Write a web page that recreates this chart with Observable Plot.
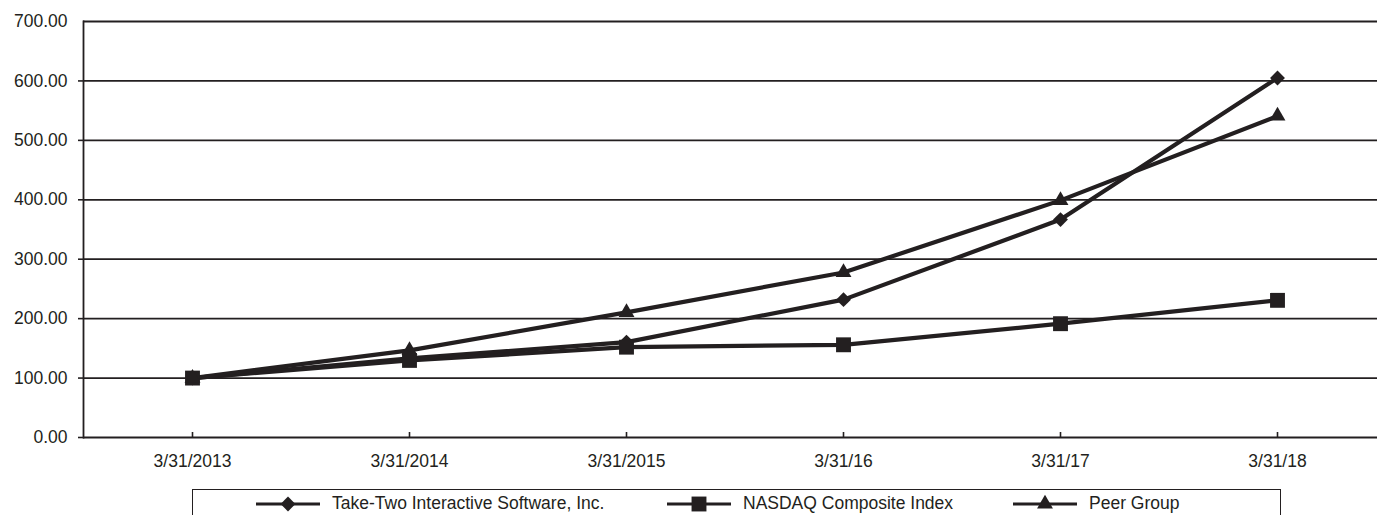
<!DOCTYPE html>
<html>
<head>
<meta charset="utf-8">
<script src="https://cdn.jsdelivr.net/npm/d3@7"></script>
<script src="https://cdn.jsdelivr.net/npm/@observablehq/plot@0.6"></script>
<style>
  body { margin: 0; background: #fff; font-family: "Liberation Sans", Arial, sans-serif; color: #231f20; overflow: hidden; }
  #chart svg { display: block; }
  #legend { position: relative; width: 1377px; height: 26px; overflow: hidden; }
  #legend .box { position: absolute; left: 192px; top: 0; width: 1087px; height: 40px; border: 1.6px solid #231f20; }
  #legend .item { position: absolute; top: 4px; display: flex; align-items: center; font-size: 17.5px; white-space: nowrap; }
  #legend .item svg { margin-right: 12px; }
</style>
</head>
<body>
<div id="chart"></div>
<div id="legend"><div class="box"></div></div>
<script>
const dates = ["3/31/2013", "3/31/2014", "3/31/2015", "3/31/16", "3/31/17", "3/31/18"];
const seriesNames = ["Take-Two Interactive Software, Inc.", "NASDAQ Composite Index", "Peer Group"];
const takeTwo = [100, 133, 160.5, 232, 366.7, 605];
const nasdaq = [100, 129.7, 152, 156, 191.5, 230.8];
const peerGroup = [100, 146.6, 210.6, 277.6, 399, 541];
const yTicks = [0, 100, 200, 300, 400, 500, 600, 700];

const ink = "#231f20";
const symbols = ["diamond2", "square", "triangle"];
const symbolR = [6.7, 8.4, 5.9];
const seriesValues = [takeTwo, nasdaq, peerGroup];

const rows = [];
seriesNames.forEach((name, i) => {
  dates.forEach((d, j) => rows.push({series: name, date: d, value: seriesValues[i][j], idx: i}));
});

const marks = [
  Plot.ruleY(yTicks.filter(t => t > 0), {stroke: ink, strokeWidth: 1.8}),
  Plot.ruleY([0], {stroke: ink, strokeWidth: 1.8}),
  Plot.frame({anchor: "left", stroke: ink, strokeWidth: 1.8}),
  Plot.axisY({ticks: yTicks.filter(t => t < 700), tickFormat: d3.format(".2f"), tickSize: 5, tickPadding: 11, fontSize: 17.5, stroke: ink, fill: ink, strokeWidth: 1.6, label: null}),
  Plot.axisY({ticks: [700], tickFormat: d3.format(".2f"), tickSize: 0, tickPadding: 16, fontSize: 17.5, fill: ink, label: null}),
  Plot.axisX({tickSize: 5, dy: -5, tickFormat: () => "", stroke: ink, strokeWidth: 1.6, label: null}),
  Plot.axisX({tickSize: 0, tickPadding: 17, fontSize: 17.5, fill: ink, label: null})
];
seriesNames.forEach((name, i) => {
  const data = rows.filter(r => r.idx === i);
  marks.push(Plot.line(data, {x: "date", y: "value", stroke: ink, strokeWidth: 4.2}));
});
seriesNames.forEach((name, i) => {
  const data = rows.filter(r => r.idx === i);
  marks.push(Plot.dot(data, {x: "date", y: "value", symbol: () => symbols[i], r: symbolR[i], fill: ink, stroke: "none"}));
});

const chart = Plot.plot({
  width: 1377,
  height: 489,
  marginLeft: 83,
  marginRight: 0,
  marginTop: 21,
  marginBottom: 52,
  style: {fontFamily: "Liberation Sans, Arial, sans-serif", color: ink, background: "#fff"},
  x: {type: "point", domain: dates, range: [192, 1277], padding: 0},
  y: {domain: [0, 700]},
  symbol: {type: "identity"},
  marks
});
document.getElementById("chart").appendChild(chart);

// Legend
const legendLefts = [256, 667, 1013];
const d3Symbols = [d3.symbolDiamond2, d3.symbolSquare, d3.symbolTriangle];
const legend = d3.select("#legend");
seriesNames.forEach((name, i) => {
  const item = legend.append("div").attr("class", "item").style("left", legendLefts[i] + "px");
  const svg = item.append("svg").attr("width", 64).attr("height", 20);
  svg.append("line").attr("x1", 0).attr("x2", 64).attr("y1", 10).attr("y2", 10).attr("stroke", ink).attr("stroke-width", 3);
  svg.append("path").attr("transform", "translate(32,10)")
    .attr("d", d3.symbol(d3Symbols[i], Math.PI * symbolR[i] * symbolR[i])())
    .attr("fill", ink);
  item.append("span").text(name);
});
</script>
</body>
</html>
